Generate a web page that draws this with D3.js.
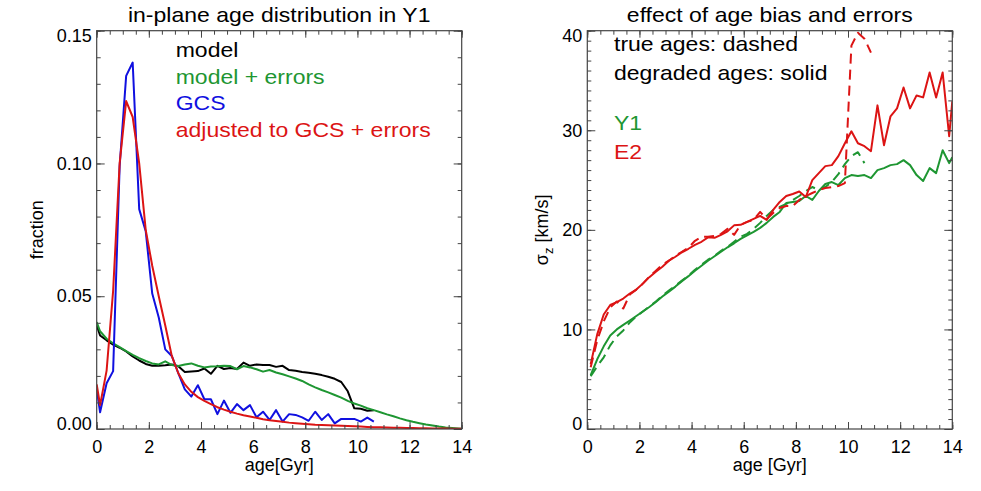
<!DOCTYPE html>
<html>
<head>
<meta charset="utf-8">
<script src="https://cdnjs.cloudflare.com/ajax/libs/d3/7.8.5/d3.min.js"></script>
<style>
  body { margin: 0; background: #fff; }
  svg { display: block; }
  text { font-family: "Liberation Sans", Arial, Helvetica, sans-serif; }
  .tick text { font-size: 18px; fill: #000; }
</style>
</head>
<body>
<svg id="chart"></svg>
<script>
/**
 * Data
 */
// age bins [Gyr], shared by all curves
const binAge = [0, 0.13, 0.38, 0.63, 0.88, 1.13, 1.38, 1.63, 1.88, 2.13, 2.38, 2.63, 2.88, 3.13, 3.38, 3.63, 3.88,
  4.13, 4.38, 4.63, 4.88, 5.13, 5.38, 5.63, 5.88, 6.13, 6.38, 6.63, 6.88, 7.13, 7.38, 7.63, 7.88, 8.13, 8.38, 8.63,
  8.88, 9.13, 9.38, 9.63, 9.88, 10.13, 10.38, 10.63, 10.88, 11.13, 11.38, 11.63, 11.88, 12.13, 12.38, 12.63, 12.88,
  13.13, 13.38, 13.63, 13.88, 14.0];

// left panel: fraction per age bin
const modelFrac = [0.0390, 0.0352, 0.0334, 0.0318, 0.0306, 0.0292, 0.0273, 0.0258, 0.0245, 0.0238,
  0.0238, 0.0240, 0.0243, 0.0236, 0.0215, 0.0217, 0.0218, 0.0228, 0.0208, 0.0238,
  0.0226, 0.0230, 0.0226, 0.0250, 0.0238, 0.0243, 0.0241, 0.0241, 0.0234, 0.0238,
  0.0222, 0.0219, 0.0215, 0.0212, 0.0208, 0.0203, 0.0197, 0.0189, 0.0177, 0.0142,
  0.0078, 0.0076, 0.0069, 0.0071];
const modelErrFrac = [0.0403, 0.0368, 0.0340, 0.0323, 0.0308, 0.0293, 0.0279, 0.0267, 0.0256, 0.0247,
  0.0243, 0.0255, 0.0241, 0.0237, 0.0243, 0.0247, 0.0238, 0.0232, 0.0235, 0.0236,
  0.0238, 0.0237, 0.0225, 0.0237, 0.0232, 0.0225, 0.0216, 0.0222, 0.0213, 0.0206,
  0.0198, 0.0190, 0.0181, 0.0168, 0.0157, 0.0147, 0.0138, 0.0128, 0.0118, 0.0106,
  0.0096, 0.0088, 0.0078, 0.0071, 0.0063, 0.0055, 0.0048, 0.0040, 0.0033, 0.0027,
  0.0022, 0.0017, 0.0013, 0.0009, 0.0006, 0.0004, 0.0002, 0.0001];
const gcsFrac = [0.0150, 0.0063, 0.0172, 0.0218, 0.0990, 0.1330, 0.1380, 0.0828, 0.0745, 0.0510,
  0.0420, 0.0300, 0.0275, 0.0210, 0.0149, 0.0122, 0.0165, 0.0112, 0.0112, 0.0056,
  0.0107, 0.0061, 0.0094, 0.0071, 0.0090, 0.0044, 0.0065, 0.0034, 0.0071, 0.0028,
  0.0056, 0.0053, 0.0044, 0.0031, 0.0065, 0.0034, 0.0056, 0.0021, 0.0038, 0.0038,
  0.0038, 0.0028, 0.0043, 0.0028];
const adjustedFrac = [0.0168, 0.0090, 0.0220, 0.0520, 0.1000, 0.1235, 0.1175, 0.1000, 0.0750, 0.0615,
  0.0500, 0.0390, 0.0275, 0.0210, 0.0168, 0.0140, 0.0120, 0.0106, 0.0094, 0.0082,
  0.0073, 0.0065, 0.0058, 0.0052, 0.0047, 0.0042, 0.0037, 0.0033, 0.0030, 0.0027,
  0.0024, 0.0022, 0.0020, 0.0018, 0.0016, 0.0015, 0.0014, 0.0013, 0.0012, 0.0011,
  0.0010, 0.0009, 0.0008, 0.0007, 0.0007, 0.0006, 0.0005, 0.0005, 0.0004, 0.0004,
  0.0003, 0.0003, 0.0002, 0.0002, 0.0002, 0.0001, 0.0001, 0.0001];

// right panel: sigma_z [km/s], starting at the 0.13 Gyr bin
const y1Degraded = [5.4, 7.0, 8.3, 9.4, 10.0, 10.45, 10.9, 11.35, 11.8, 12.25, 12.75, 13.3, 13.8, 14.3, 14.85,
  15.35, 15.9, 16.4, 16.9, 17.35, 17.8, 18.25, 18.65, 19.1, 19.45, 19.8, 20.2, 20.7, 21.3, 21.8, 22.7, 22.8,
  22.9, 23.4, 23.0, 23.9, 24.6, 24.8, 24.5, 25.2, 25.5, 25.4, 25.5, 25.2, 26.0, 26.2, 26.5, 26.6, 27.0, 26.5,
  25.5, 24.9, 26.2, 25.7, 28.0, 26.7, 27.3];
const y1True = [5.3, 6.3, 7.2, 8.4, 9.3, 9.9, 10.7, 11.3, 11.8, 12.3, 12.8, 13.4, 13.9, 14.4, 14.9, 15.4, 16.0,
  16.5, 17.0, 17.4, 17.9, 18.3, 18.8, 19.3, 19.6, 20.1, 20.7, 21.4, 22.0, 22.3, 22.6, 23.0, 23.4, 23.9, 24.3,
  24.0, 24.3, 24.8, 25.6, 26.6, 27.4, 27.8, 26.7];
const e2Degraded = [6.5, 9.5, 11.5, 12.45, 12.75, 13.1, 13.6, 14.0, 14.6, 15.25, 15.8, 16.3, 16.9, 17.3, 17.75,
  18.1, 18.5, 18.8, 19.25, 19.2, 19.5, 19.85, 20.45, 20.5, 20.8, 21.1, 21.4, 21.0, 22.0, 22.8, 23.4, 23.6,
  23.85, 23.3, 25.0, 25.7, 26.4, 26.5, 27.4, 28.7, 29.9, 28.7, 28.4, 27.9, 32.5, 28.5, 31.4, 32.2, 34.3, 32.2,
  33.5, 33.3, 35.8, 33.3, 35.8, 29.4, 32.9];
const e2True = [6.2, 8.9, 10.8, 12.2, 12.8, 12.1, 13.5, 14.0, 14.6, 15.3, 15.9, 16.5, 16.9, 17.4, 17.8, 18.2,
  18.9, 19.3, 19.3, 19.4, 19.6, 20.1, 19.5, 20.5, 20.8, 21.0, 21.8, 21.1, 21.7, 22.2, 22.4, 22.4, 23.0, 23.4,
  23.7, 24.0, 24.2, 24.3, 24.4, 24.7, 38.5, 39.8, 39.2, 37.8];

// tick labels
const ageTicks = [0, 2, 4, 6, 8, 10, 12, 14];
const fracTicks = [0, 0.05, 0.10, 0.15];
const sigmaTicks = [0, 10, 20, 30, 40];

const leftLegend = [
  { text: "model", color: "#000000" },
  { text: "model + errors", color: "#1e9632" },
  { text: "GCS", color: "#1010e0" },
  { text: "adjusted to GCS + errors", color: "#dc1414" }
];

/**
 * Layout
 */
const width = 981;
const height = 491;
const plotW = 365;
const plotH = 398.3;
const plotTop = 30.7;
const axisColor = "#444";
const black = "#000000", green = "#1e9632", blue = "#1010e0", red = "#dc1414";

const svg = d3.select("#chart").attr("width", width).attr("height", height);
svg.append("rect").attr("width", width).attr("height", height).attr("fill", "#fff");

let label = (parent, x, y, str, size, color, anchor) => {
  return parent.append("text")
    .attr("transform", "translate(" + x + "," + y + ") scale(1.15,1)")
    .attr("text-anchor", anchor || "start")
    .style("font-size", size + "px")
    .attr("fill", color)
    .text(str);
};

// axes with inward ticks on all four sides, IDL style
let drawFrame = (g, x, y, yMajor, yMinor, yFmt) => {
  const xMinor = d3.range(0, 14.001, 0.5);

  g.append("g").attr("transform", "translate(0," + plotH + ")")
    .call(d3.axisBottom(x).tickValues(ageTicks).tickSize(-7).tickPadding(11).tickFormat(d3.format("d")));
  g.append("g").attr("transform", "translate(0," + plotH + ")")
    .call(d3.axisBottom(x).tickValues(xMinor).tickSize(-4).tickFormat(""));
  g.append("g").call(d3.axisTop(x).tickValues(ageTicks).tickSize(-7).tickFormat(""));
  g.append("g").call(d3.axisTop(x).tickValues(xMinor).tickSize(-4).tickFormat(""));

  const yAxis = g.append("g")
    .call(d3.axisLeft(y).tickValues(yMajor).tickSize(-8).tickPadding(5).tickFormat(yFmt));
  const yDom = y.domain();
  yAxis.selectAll(".tick text")
    .attr("y", d => d === yDom[1] ? 5 : (d === yDom[0] ? -5 : 0));
  g.append("g").call(d3.axisLeft(y).tickValues(yMinor).tickSize(-4).tickFormat(""));
  g.append("g").attr("transform", "translate(" + plotW + ",0)")
    .call(d3.axisRight(y).tickValues(yMajor).tickSize(-8).tickFormat(""));
  g.append("g").attr("transform", "translate(" + plotW + ",0)")
    .call(d3.axisRight(y).tickValues(yMinor).tickSize(-4).tickFormat(""));

  g.selectAll(".domain").remove();
  g.selectAll(".tick line").attr("stroke", axisColor).attr("stroke-width", 1);
  g.append("rect")
    .attr("width", plotW).attr("height", plotH)
    .attr("fill", "none").attr("stroke", axisColor).attr("stroke-width", 1.2);
};

let drawCurve = (g, x, y, ages, values, color, dashed) => {
  const line = d3.line().x((d, i) => x(ages[i])).y(d => y(d));
  g.append("path")
    .datum(values)
    .attr("d", line)
    .attr("fill", "none")
    .attr("stroke", color)
    .attr("stroke-width", 2)
    .attr("stroke-linejoin", "round")
    .attr("stroke-dasharray", dashed ? "10,6" : null);
};

/**
 * Left panel: age distribution
 */
const left = svg.append("g").attr("transform", "translate(96.7," + plotTop + ")");
const xL = d3.scaleLinear().domain([0, 14]).range([0, plotW]);
const yL = d3.scaleLinear().domain([0, 0.15]).range([plotH, 0]);

left.append("clipPath").attr("id", "clipL").append("rect").attr("width", plotW).attr("height", plotH);
const curvesL = left.append("g").attr("clip-path", "url(#clipL)");
drawCurve(curvesL, xL, yL, binAge, modelFrac, black);
drawCurve(curvesL, xL, yL, binAge, modelErrFrac, green);
drawCurve(curvesL, xL, yL, binAge, gcsFrac, blue);
drawCurve(curvesL, xL, yL, binAge, adjustedFrac, red);

drawFrame(left, xL, yL, fracTicks, d3.range(0, 0.1501, 0.01), d3.format(".2f"));

label(left, plotW / 2, 22 - plotTop, "in-plane age distribution in Y1", 20, "#000", "middle");
left.append("text")
  .attr("x", plotW / 2).attr("y", 471 - plotTop)
  .attr("text-anchor", "middle").style("font-size", "18px")
  .text("age[Gyr]");
left.append("text")
  .attr("transform", "translate(" + (43.3 - 96.7) + "," + (plotH / 2) + ") rotate(-90)")
  .attr("text-anchor", "middle").style("font-size", "18px")
  .text("fraction");

leftLegend.forEach((d, i) => {
  label(left, 175.7 - 96.7, 57.3 - plotTop + i * 26.5, d.text, 20, d.color);
});

/**
 * Right panel: sigma_z vs age
 */
const sigAge = binAge.slice(1);
const right = svg.append("g").attr("transform", "translate(587.3," + plotTop + ")");
const xR = d3.scaleLinear().domain([0, 14]).range([0, plotW]);
const yR = d3.scaleLinear().domain([0, 40]).range([plotH, 0]);

right.append("clipPath").attr("id", "clipR").append("rect").attr("width", plotW).attr("height", plotH);
const curvesR = right.append("g").attr("clip-path", "url(#clipR)");
drawCurve(curvesR, xR, yR, sigAge, y1Degraded, green);
drawCurve(curvesR, xR, yR, sigAge, y1True, green, true);
drawCurve(curvesR, xR, yR, sigAge, e2Degraded, red);
drawCurve(curvesR, xR, yR, sigAge, e2True, red, true);

drawFrame(right, xR, yR, sigmaTicks, d3.range(0, 40.01, 1), d3.format("d"));

label(right, plotW / 2, 22 - plotTop, "effect of age bias and errors", 20, "#000", "middle");
right.append("text")
  .attr("x", plotW / 2).attr("y", 471 - plotTop)
  .attr("text-anchor", "middle").style("font-size", "18px")
  .text("age [Gyr]");
const yTitle = right.append("text")
  .attr("transform", "translate(" + (548 - 587.3) + "," + (plotH / 2) + ") rotate(-90)")
  .attr("text-anchor", "middle").style("font-size", "18px");
yTitle.append("tspan").text("σ");
yTitle.append("tspan").attr("dy", 5).style("font-size", "13px").text("z");
yTitle.append("tspan").attr("dy", -5).text(" [km/s]");

label(right, 614 - 587.3, 50.7 - plotTop, "true ages: dashed", 20, "#000");
label(right, 614 - 587.3, 80 - plotTop, "degraded ages: solid", 20, "#000");
label(right, 614 - 587.3, 130 - plotTop, "Y1", 20, green);
label(right, 614 - 587.3, 159.3 - plotTop, "E2", 20, red);
</script>
</body>
</html>
